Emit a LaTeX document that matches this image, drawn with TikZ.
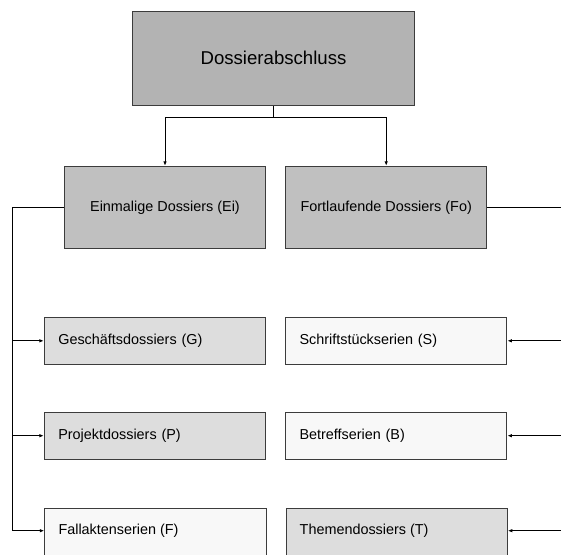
\documentclass[tikz,border=0pt]{standalone}
\usepackage{fontspec}
\setmainfont{Liberation Sans}
\usetikzlibrary{arrows.meta}
\definecolor{topgray}{HTML}{B3B3B3}
\definecolor{midgray}{HTML}{C0C0C0}
\definecolor{lightgray}{HTML}{DDDDDD}
\definecolor{palegray}{HTML}{F8F8F8}
\definecolor{edgegray}{HTML}{3C3C3C}
\tikzset{
  box/.style={draw=edgegray, line width=0.9pt, rectangle, inner sep=0pt},
  topbox/.style={box, fill=topgray, minimum width=281.6pt, minimum height=94.7pt, font=\fontsize{18.6}{22}\selectfont},
  catbox/.style={box, fill=midgray, minimum width=201.4pt, minimum height=82pt, font=\fontsize{14.4}{17}\selectfont},
  leafbox/.style={box, minimum width=221.4pt, minimum height=47pt, inner xsep=14pt, text width=193.4pt, align=left, font=\fontsize{14.4}{17}\selectfont},
  % bottom row runs past the lower edge of the page
  lastrow/.style={leafbox, minimum height=60pt, anchor=north west},
  leaftext/.style={anchor=west, inner sep=0pt, font=\fontsize{14.4}{17}\selectfont},
  conn/.style={line width=0.9pt, black},
  arr/.style={conn, -{Latex[length=4.5pt,width=3.5pt]}}
}
\begin{document}
\begin{tikzpicture}[x=1pt, y=-1pt]
  \useasboundingbox (0,0) rectangle (561,554);
  \fill[white] (0,0) rectangle (561,554);
  \clip (0,0) rectangle (561,554);

  % top level
  \node[topbox] (top) at (273.5,58.3) {Dossierabschluss};

  % categories
  \node[catbox] (ei) at (165,207.3) {Einmalige Dossiers (Ei)};
  \node[catbox] (fo) at (386.2,207.3) {Fortlaufende Dossiers (Fo)};

  % leaves, left column
  \node[leafbox, fill=lightgray] (g) at (155,340.8) {Geschäftsdossiers (G)};
  \node[leafbox, fill=lightgray] (p) at (155,435.7) {Projektdossiers (P)};
  \node[lastrow, fill=palegray] (f) at (44.3,507.7) {};
  \node[leaftext] (ft) at (58.3,530.7) {Fallaktenserien (F)};

  % leaves, right column
  \node[leafbox, fill=palegray]  (s) at (396.2,340.8) {Schriftstückserien (S)};
  \node[leafbox, fill=palegray]  (b) at (396.2,435.7) {Betreffserien (B)};
  \node[lastrow, fill=lightgray] (t) at (285.5,507.7) {};
  \node[leaftext] (tt) at (299.5,530.7) {Themendossiers (T)};

  % bus lines
  \coordinate (lbus) at (12.3,0);
  \coordinate (rbus) at (562,0);

  % top to categories
  \draw[arr] (top.south) -- ++(0,11.6) -| (ei.north);
  \draw[arr] (top.south) -- ++(0,11.6) -| (fo.north);

  % Ei to left leaves
  \draw[arr] (ei.west) -- (ei.west -| lbus) |- (g.west);
  \draw[arr] (ei.west) -- (ei.west -| lbus) |- (p.west);
  \draw[arr] (ei.west) -- (ei.west -| lbus) |- (f.west |- ft.west);

  % Fo to right leaves
  \draw[conn] (fo.east) -- (fo.east -| rbus);
  \draw[arr] (s.east -| rbus) -- (s.east);
  \draw[arr] (b.east -| rbus) -- (b.east);
  \draw[arr] (tt.west -| rbus) -- (tt.west -| t.east);
\end{tikzpicture}
\end{document}
